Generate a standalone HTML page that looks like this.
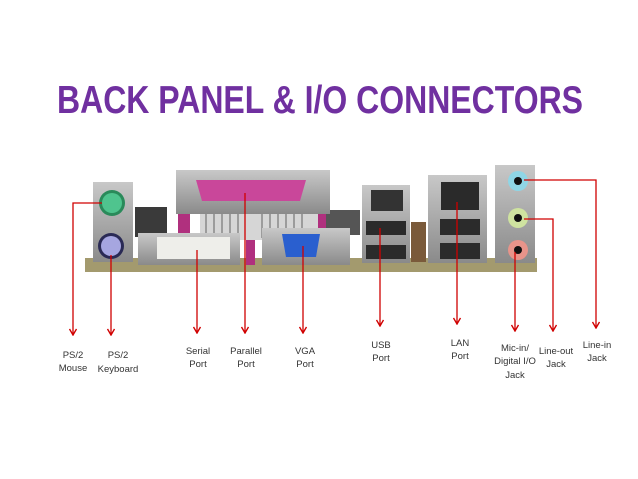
<!DOCTYPE html>
<html><head><meta charset="utf-8"><style>
html,body{margin:0;padding:0;background:#fff;width:638px;height:479px;overflow:hidden}
svg{display:block}
text{font-family:"Liberation Sans",sans-serif}
</style></head><body>
<svg width="638" height="479" viewBox="0 0 638 479">
<defs>
<marker id="a" markerWidth="8" markerHeight="8" refX="4" refY="7" orient="0" markerUnits="userSpaceOnUse"><path d="M0.5,1 L4,7 L7.5,1" fill="none" stroke="#d00000" stroke-width="1.4"/></marker>
<linearGradient id="m" x1="0" y1="0" x2="0" y2="1"><stop offset="0" stop-color="#c8c8c8"/><stop offset="1" stop-color="#8a8a8a"/></linearGradient>
</defs>
<text x="320" y="113" text-anchor="middle" font-size="39" font-weight="bold" fill="#7030a0" textLength="526" lengthAdjust="spacingAndGlyphs">BACK PANEL &amp; I/O CONNECTORS</text>

<!-- base strip -->
<rect x="85" y="258" width="452" height="14" fill="#a39a6e"/>
<!-- capacitors etc -->
<rect x="135" y="207" width="32" height="30" fill="#3a3a3a"/>
<rect x="320" y="210" width="40" height="25" fill="#555"/>
<rect x="178" y="207" width="12" height="28" fill="#b0307e"/>
<rect x="246" y="210" width="9" height="55" fill="#b0307e"/>
<rect x="314" y="208" width="12" height="22" fill="#b0307e"/>
<rect x="200" y="210" width="118" height="30" fill="#d6d6d6"/>
<g stroke="#888" stroke-width="1.5"><line x1="206" y1="212" x2="206" y2="238"/><line x1="214" y1="212" x2="214" y2="238"/><line x1="222" y1="212" x2="222" y2="238"/><line x1="230" y1="212" x2="230" y2="238"/><line x1="238" y1="212" x2="238" y2="238"/><line x1="262" y1="212" x2="262" y2="238"/><line x1="270" y1="212" x2="270" y2="238"/><line x1="278" y1="212" x2="278" y2="238"/><line x1="286" y1="212" x2="286" y2="238"/><line x1="294" y1="212" x2="294" y2="238"/><line x1="302" y1="212" x2="302" y2="238"/></g>
<!-- PS/2 -->
<rect x="93" y="182" width="40" height="80" fill="url(#m)"/>
<circle cx="112" cy="203" r="13" fill="#2a8a5a"/><circle cx="112" cy="203" r="10" fill="#4fc48e"/>
<circle cx="111" cy="246" r="13" fill="#2a2a55"/><circle cx="111" cy="246" r="10" fill="#a6a6e0"/>
<!-- parallel -->
<rect x="176" y="170" width="154" height="44" fill="url(#m)"/>
<path d="M196,180 H306 L300,201 H202 Z" fill="#c9479a"/>
<!-- DVI -->
<rect x="138" y="233" width="102" height="32" fill="url(#m)"/>
<rect x="157" y="237" width="73" height="22" fill="#eeeeea"/>
<!-- VGA -->
<rect x="262" y="228" width="88" height="37" fill="url(#m)"/>
<path d="M282,234 H320 L316,257 H286 Z" fill="#2a5fcf"/>
<!-- USB -->
<rect x="362" y="185" width="48" height="78" fill="url(#m)"/>
<rect x="371" y="190" width="32" height="21" fill="#333"/>
<rect x="366" y="221" width="40" height="14" fill="#2b2b2b"/>
<rect x="366" y="245" width="40" height="14" fill="#2b2b2b"/>
<rect x="411" y="222" width="15" height="40" fill="#7a5a3a"/>
<!-- LAN -->
<rect x="428" y="175" width="59" height="88" fill="url(#m)"/>
<rect x="441" y="182" width="38" height="28" fill="#2a2a2a"/>
<rect x="440" y="219" width="40" height="16" fill="#2b2b2b"/>
<rect x="440" y="243" width="40" height="16" fill="#2b2b2b"/>
<!-- audio -->
<rect x="495" y="165" width="40" height="98" fill="url(#m)"/>
<circle cx="518" cy="181" r="10" fill="#8fd6e6"/><circle cx="518" cy="181" r="4" fill="#111"/>
<circle cx="518" cy="218" r="10" fill="#cfe3a0"/><circle cx="518" cy="218" r="4" fill="#111"/>
<circle cx="518" cy="250" r="10" fill="#e8948a"/><circle cx="518" cy="250" r="4" fill="#111"/>

<!-- connectors -->
<g stroke="#d00000" stroke-width="1.3" fill="none">
<polyline points="102,203 73,203 73,335" marker-end="url(#a)"/>
<line x1="111" y1="255" x2="111" y2="335" marker-end="url(#a)"/>
<line x1="197" y1="250" x2="197" y2="333" marker-end="url(#a)"/>
<line x1="245" y1="193" x2="245" y2="333" marker-end="url(#a)"/>
<line x1="303" y1="246" x2="303" y2="333" marker-end="url(#a)"/>
<line x1="380" y1="228" x2="380" y2="326" marker-end="url(#a)"/>
<line x1="457" y1="202" x2="457" y2="324" marker-end="url(#a)"/>
<line x1="515" y1="252" x2="515" y2="331" marker-end="url(#a)"/>
<polyline points="524,219 553,219 553,331" marker-end="url(#a)"/>
<polyline points="524,180 596,180 596,328" marker-end="url(#a)"/>
</g>
<g font-size="9.5" fill="#333" text-anchor="middle">
<text x="73" y="358">PS/2</text><text x="73" y="371">Mouse</text>
<text x="118" y="358">PS/2</text><text x="118" y="372">Keyboard</text>
<text x="198" y="354">Serial</text><text x="198" y="367">Port</text>
<text x="246" y="354">Parallel</text><text x="246" y="367">Port</text>
<text x="305" y="354">VGA</text><text x="305" y="367">Port</text>
<text x="381" y="348">USB</text><text x="381" y="361">Port</text>
<text x="460" y="346">LAN</text><text x="460" y="359">Port</text>
<text x="515" y="351">Mic-in/</text><text x="515" y="364">Digital I/O</text><text x="515" y="378">Jack</text>
<text x="556" y="354">Line-out</text><text x="556" y="367">Jack</text>
<text x="597" y="348">Line-in</text><text x="597" y="361">Jack</text>
</g>
</svg>
</body></html>
